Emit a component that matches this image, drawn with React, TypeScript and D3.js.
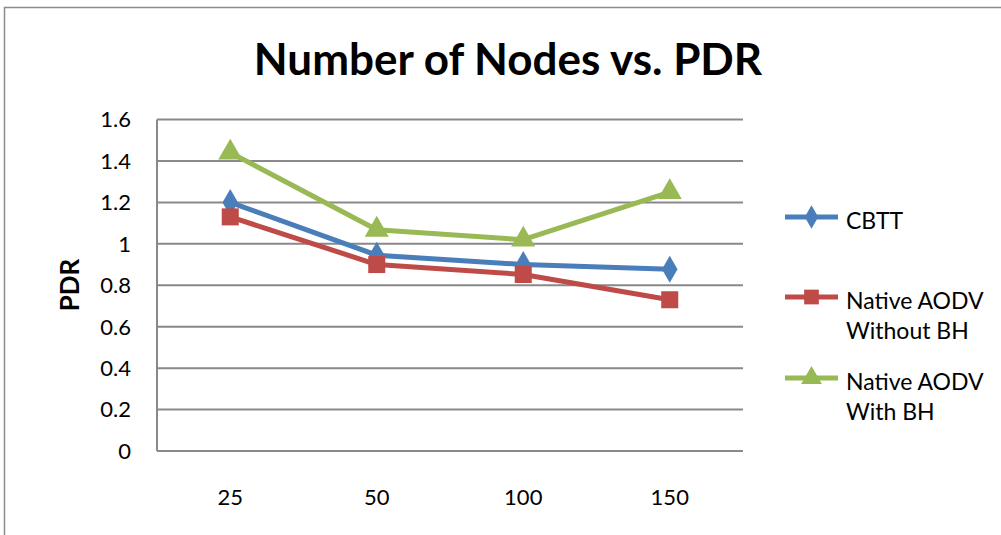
import { useEffect, useRef } from 'react';
import * as d3 from 'd3';

// chart values
const categories = ['25', '50', '100', '150'];
const cbtt = [1.2, 0.945, 0.9, 0.877];
const aodvNoBH = [1.13, 0.9, 0.852, 0.73];
const aodvBH = [1.44, 1.068, 1.02, 1.25];
const yTicks = [0, 0.2, 0.4, 0.6, 0.8, 1, 1.2, 1.4, 1.6];

const series = [
    { name: ['CBTT'], values: cbtt, color: '#4A7EBB', shape: d3.symbolDiamond, size: 210, ly: 217 },
    { name: ['Native AODV', 'Without BH'], values: aodvNoBH, color: '#BE4B48', shape: d3.symbolSquare, size: 290, ly: 297 },
    { name: ['Native AODV', 'With BH'], values: aodvBH, color: '#98B954', shape: d3.symbolTriangle, size: 250, ly: 378 },
];

const FONT = 'Lato, "Open Sans", sans-serif';

export default function App() {
    const ref = useRef<SVGSVGElement>(null);

    useEffect(() => {
        const width = 1001;
        const height = 535;
        const plot = { left: 157, right: 743, top: 119.5, bottom: 451 };

        const svg = d3.select(ref.current);
        svg.selectAll('*').remove();

        svg.append('rect').attr('width', width).attr('height', height).attr('fill', '#fff');
        svg.append('rect')
            .attr('x', 4.5).attr('y', 7.5).attr('width', 1010).attr('height', 540)
            .attr('fill', 'none').attr('stroke', '#8c8c8c').attr('stroke-width', 1.5);

        const x = d3.scaleBand().domain(categories).range([plot.left, plot.right]);
        const y = d3.scaleLinear().domain([0, 1.6]).range([plot.bottom, plot.top]);

        // grid
        svg.append('g')
            .selectAll('line')
            .data(yTicks)
            .enter()
            .append('line')
            .attr('x1', plot.left).attr('x2', plot.right)
            .attr('y1', d => y(d)).attr('y2', d => y(d))
            .attr('stroke', '#898989').attr('stroke-width', 2);
        svg.append('line')
            .attr('x1', plot.left).attr('x2', plot.left)
            .attr('y1', plot.top).attr('y2', plot.bottom)
            .attr('stroke', '#898989').attr('stroke-width', 2);

        // y tick labels
        svg.append('g')
            .selectAll('text')
            .data(yTicks)
            .enter()
            .append('text')
            .attr('x', 131)
            .attr('y', d => y(d))
            .attr('dy', '0.36em')
            .attr('text-anchor', 'end')
            .attr('font-family', FONT)
            .attr('font-size', 22)
            .attr('fill', '#000')
            .text(d => String(d));

        // x tick labels
        svg.append('g')
            .selectAll('text')
            .data(categories)
            .enter()
            .append('text')
            .attr('x', d => (x(d) as number) + x.bandwidth() / 2)
            .attr('y', 497)
            .attr('dy', '0.36em')
            .attr('text-anchor', 'middle')
            .attr('font-family', FONT)
            .attr('font-size', 22)
            .attr('fill', '#000')
            .text(d => d);

        // title
        svg.append('text')
            .attr('x', 508).attr('y', 75)
            .attr('text-anchor', 'middle')
            .attr('font-family', FONT)
            .attr('font-weight', 'bold')
            .attr('font-size', 44)
            .text('Number of Nodes vs. PDR');

        svg.append('text')
            .attr('transform', 'translate(70,285) rotate(-90)')
            .attr('text-anchor', 'middle')
            .attr('dy', '0.36em')
            .attr('font-family', FONT)
            .attr('font-weight', 'bold')
            .attr('font-size', 26)
            .text('PDR');

        const cx = (i: number) => (x(categories[i]) as number) + x.bandwidth() / 2;
        const line = d3.line<number>().x((_, i) => cx(i)).y(d => y(d));

        series.forEach(s => {
            svg.append('path')
                .datum(s.values)
                .attr('d', line)
                .attr('fill', 'none')
                .attr('stroke', s.color)
                .attr('stroke-width', 5)
                .attr('stroke-linejoin', 'round');
            svg.append('g')
                .selectAll('path')
                .data(s.values)
                .enter()
                .append('path')
                .attr('transform', (d, i) => `translate(${cx(i)},${y(d)})`)
                .attr('d', d3.symbol(s.shape, s.size)())
                .attr('fill', s.color);

            // legend
            svg.append('line')
                .attr('x1', 785).attr('x2', 838)
                .attr('y1', s.ly).attr('y2', s.ly)
                .attr('stroke', s.color).attr('stroke-width', 5);
            svg.append('path')
                .attr('transform', `translate(811.5,${s.ly})`)
                .attr('d', d3.symbol(s.shape, s.size * 0.75)())
                .attr('fill', s.color);
            s.name.forEach((t, k) => {
                svg.append('text')
                    .attr('x', 846)
                    .attr('y', s.ly + 4 + k * 30)
                    .attr('dy', '0.36em')
                    .attr('font-family', FONT)
                    .attr('font-size', 23)
                    .text(t);
            });
        });
    }, []);

    return (
        <svg ref={ref} width={1001} height={535}
            style={{ position: 'absolute', left: 0, top: 0, display: 'block' }} />
    );
}
